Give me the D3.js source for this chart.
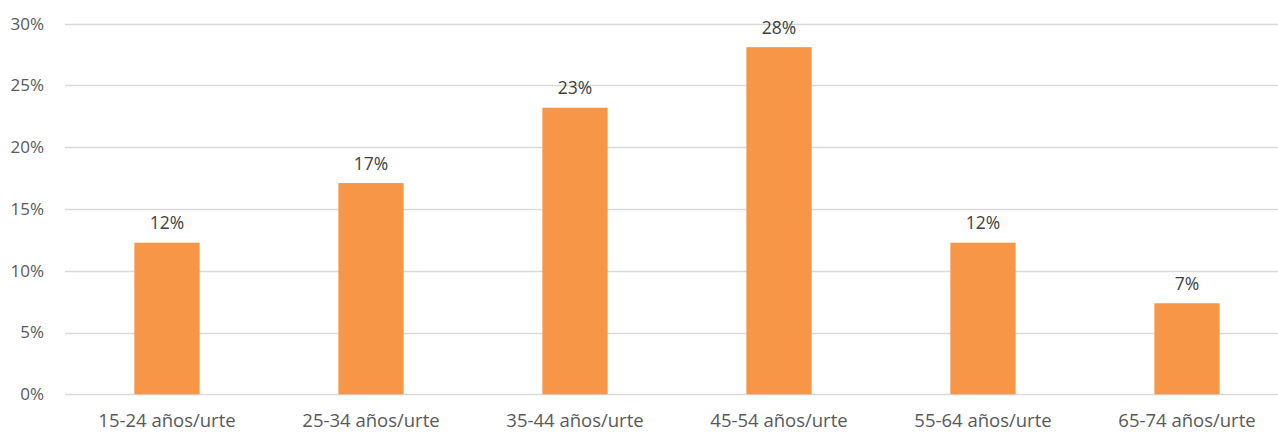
<!DOCTYPE html>
<html><head><meta charset="utf-8">
<script src="https://cdn.jsdelivr.net/npm/d3@7"></script>
<style>body{margin:0;background:#fff;} svg{display:block;}</style>
</head><body>
<svg id="c" width="1278" height="432"></svg>
<script>
const categories = ["15-24 años/urte","25-34 años/urte","35-44 años/urte","45-54 años/urte","55-64 años/urte","65-74 años/urte"];
const values = [12.27, 17.1, 23.2, 28.1, 12.27, 7.37];
const labels = ["12%","17%","23%","28%","12%","7%"];
const yTicks = [0,5,10,15,20,25,30];

const svg = d3.select("#c");
const font = "'Open Sans', sans-serif";
const x = d3.scaleBand().domain(categories).range([65, 1289]).padding(0);
const y = d3.scaleLinear().domain([0,30]).range([394.3, 23.7]);
const barW = x.bandwidth()*0.32;

svg.append("g").selectAll("line").data(yTicks).join("line")
  .attr("x1",65).attr("x2",1289)
  .attr("y1",d=>Math.round(y(d))+0.5).attr("y2",d=>Math.round(y(d))+0.5)
  .attr("stroke","#d9d9d9").attr("stroke-width",1.3);

svg.append("g").selectAll("text").data(yTicks).join("text")
  .attr("x",44).attr("y",d=>y(d)).attr("dy","0.35em")
  .attr("text-anchor","end").attr("font-family",font).attr("font-size",17)
  .attr("fill","#595959").text(d=>d+"%");

svg.append("g").selectAll("rect").data(values).join("rect")
  .attr("x",(d,i)=>x(categories[i])+x.bandwidth()/2-barW/2)
  .attr("width",barW)
  .attr("y",d=>y(d)).attr("height",d=>y(0)-y(d))
  .attr("fill","#f79646");

svg.append("g").selectAll("text").data(values).join("text")
  .attr("x",(d,i)=>x(categories[i])+x.bandwidth()/2)
  .attr("y",d=>y(d)-13.4)
  .attr("text-anchor","middle").attr("font-family",font).attr("font-size",17.5)
  .attr("fill","#404040").text((d,i)=>labels[i]);

svg.append("g").selectAll("text").data(categories).join("text")
  .attr("x",d=>x(d)+x.bandwidth()/2).attr("y",427)
  .attr("text-anchor","middle").attr("font-family",font).attr("font-size",18.5)
  .attr("fill","#595959").text(d=>d);
</script>
</body></html>
